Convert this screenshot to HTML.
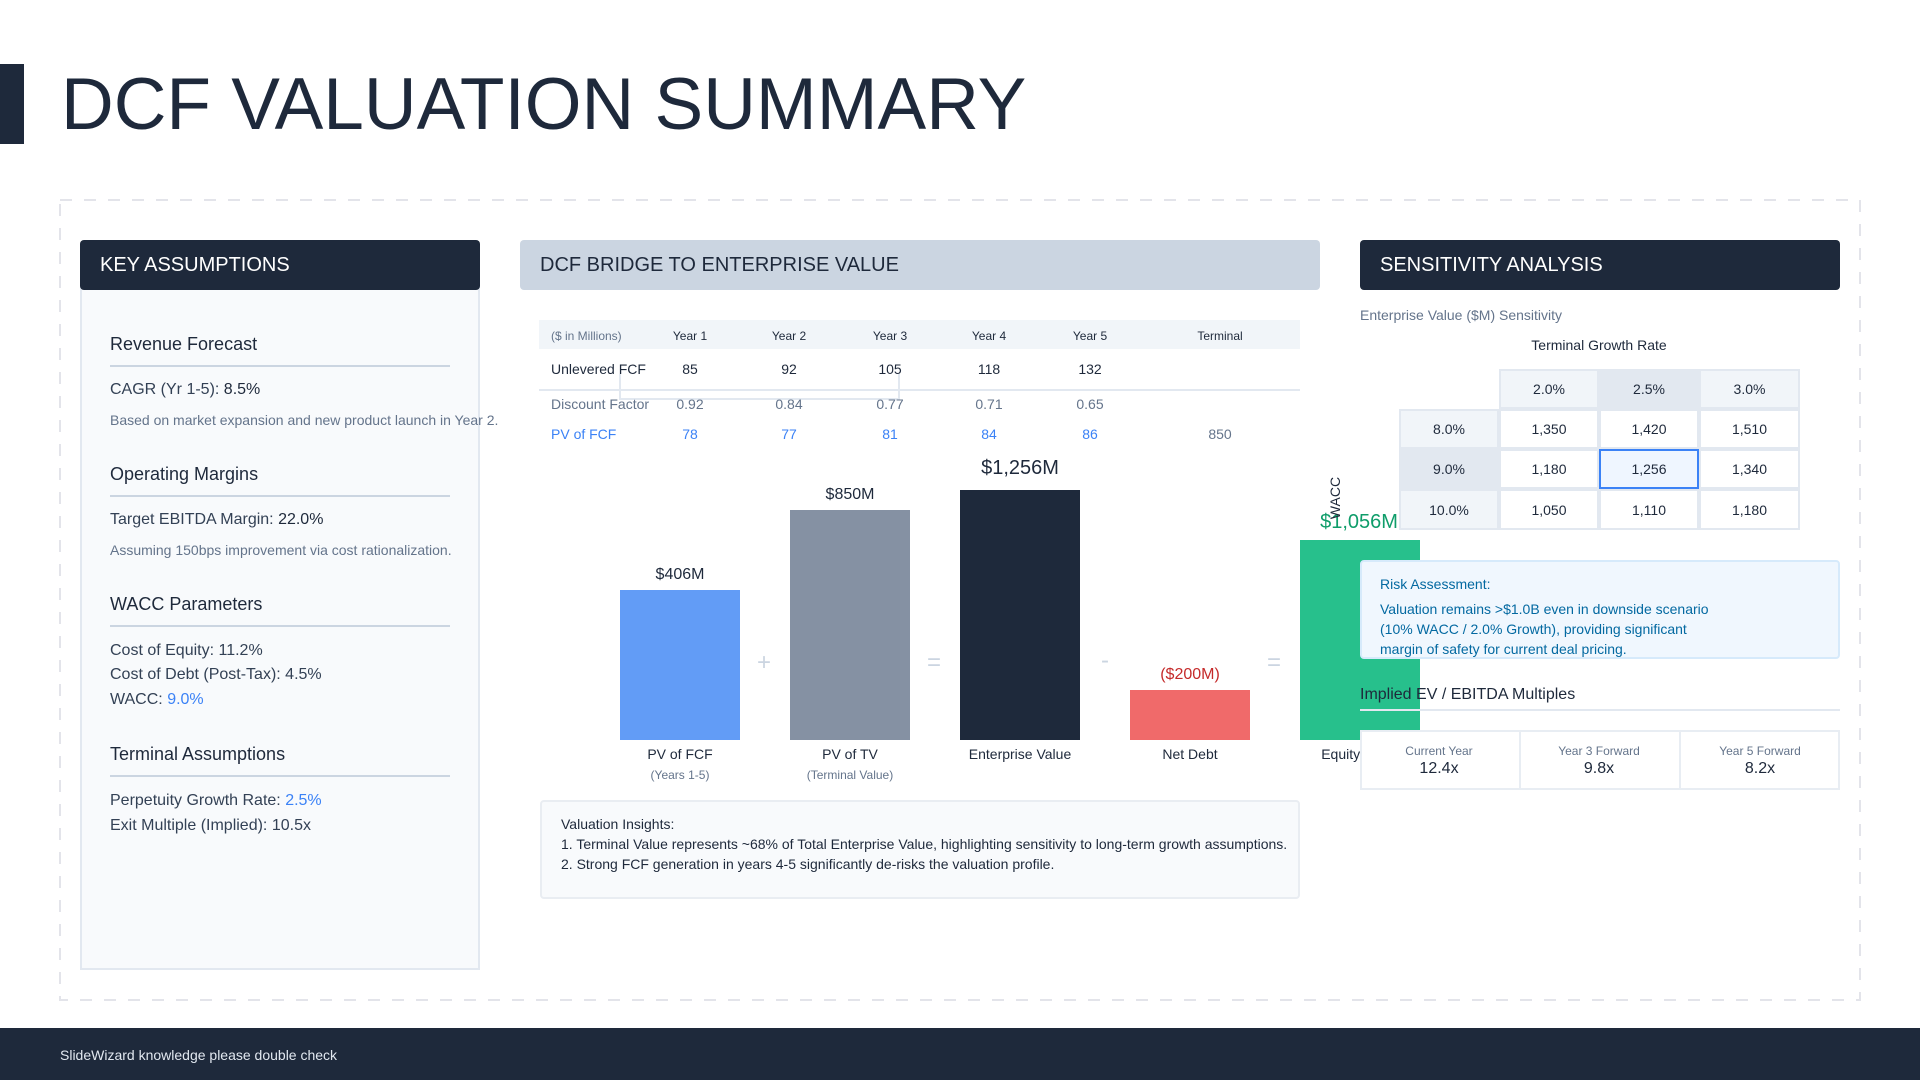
<!DOCTYPE html>
<html><head><meta charset="utf-8">
<style>
*{margin:0;padding:0;box-sizing:border-box}
html,body{width:1920px;height:1080px;overflow:hidden;background:#fff}
body{position:relative;font-family:"Liberation Sans",Arial,Helvetica,sans-serif;color:#1e293b}
.a{position:absolute;white-space:nowrap;line-height:1}
.c{transform:translateX(-50%)}
.hdr{position:absolute;height:50px;border-radius:4px}
.line{position:absolute;height:2px;background:#cbd5e1}
.st{font-size:18px;color:#1e293b}
.it{font-size:16px;color:#334155}
.nt{font-size:14px;color:#64748b}
.th{font-size:12px;color:#1e293b}
.td{font-size:14px}
.cell{position:absolute;width:100px;height:40px;display:flex;align-items:center;justify-content:center;font-size:14px;color:#1e293b;border:2px solid #e2e8f0;background:#fff}
.bar{position:absolute;width:120px}
.op{position:absolute;font-size:24px;color:#cbd5e1;line-height:1;transform:translate(-50%,-50%)}
</style></head><body>

<!-- title -->
<div style="position:absolute;left:0;top:64px;width:24px;height:80px;background:#1e293b"></div>
<div class="a" style="left:61px;top:68.2px;font-size:73px;color:#1e293b">DCF VALUATION SUMMARY</div>

<!-- dashed frame -->
<svg style="position:absolute;left:0;top:0" width="1920" height="1080">
<rect x="60" y="200" width="1800" height="800" fill="none" stroke="#e3e4ea" stroke-width="2" stroke-dasharray="12 12"/>
</svg>

<!-- LEFT PANEL -->
<div style="position:absolute;left:80px;top:280px;width:400px;height:690px;background:#f8fafc;border:2px solid #e2e8f0;border-top:none"></div>
<div class="hdr" style="left:80px;top:240px;width:400px;background:#1e293b"></div>
<div class="a" style="left:100px;top:255px;font-size:20px;color:#fff">KEY ASSUMPTIONS</div>

<div class="a st" style="left:110px;top:335px">Revenue Forecast</div>
<div class="line" style="left:110px;top:365px;width:340px"></div>
<div class="a it" style="left:110px;top:381.5px">CAGR (Yr 1-5): <span style="color:#1e293b">8.5%</span></div>
<div class="a nt" style="left:110px;top:413.2px">Based on market expansion and new product launch in Year 2.</div>

<div class="a st" style="left:110px;top:465px">Operating Margins</div>
<div class="line" style="left:110px;top:495px;width:340px"></div>
<div class="a it" style="left:110px;top:511.5px">Target EBITDA Margin: <span style="color:#1e293b">22.0%</span></div>
<div class="a nt" style="left:110px;top:543.2px">Assuming 150bps improvement via cost rationalization.</div>

<div class="a st" style="left:110px;top:595px">WACC Parameters</div>
<div class="line" style="left:110px;top:625px;width:340px"></div>
<div class="a it" style="left:110px;top:642.5px">Cost of Equity: 11.2%</div>
<div class="a it" style="left:110px;top:666.5px">Cost of Debt (Post-Tax): 4.5%</div>
<div class="a it" style="left:110px;top:691.5px">WACC: <span style="color:#3b82f6">9.0%</span></div>

<div class="a st" style="left:110px;top:745px">Terminal Assumptions</div>
<div class="line" style="left:110px;top:775px;width:340px"></div>
<div class="a it" style="left:110px;top:792.5px">Perpetuity Growth Rate: <span style="color:#3b82f6">2.5%</span></div>
<div class="a it" style="left:110px;top:817.5px">Exit Multiple (Implied): 10.5x</div>

<!-- MIDDLE -->
<div class="hdr" style="left:520px;top:240px;width:800px;background:#cbd5e1"></div>
<div class="a" style="left:540px;top:255px;font-size:20px;color:#1e293b">DCF BRIDGE TO ENTERPRISE VALUE</div>

<div style="position:absolute;left:539px;top:320px;width:761px;height:29px;background:#f1f5f9"></div>
<div class="a" style="left:551px;top:329.8px;font-size:12px;color:#64748b">($ in Millions)</div>
<div class="a th c" style="left:690px;top:330px">Year 1</div>
<div class="a th c" style="left:789px;top:330px">Year 2</div>
<div class="a th c" style="left:890px;top:330px">Year 3</div>
<div class="a th c" style="left:989px;top:330px">Year 4</div>
<div class="a th c" style="left:1090px;top:330px">Year 5</div>
<div class="a th c" style="left:1220px;top:330px">Terminal</div>

<div style="position:absolute;left:619px;top:374px;width:281px;height:26px;border:2px solid #e2e8f0;border-top:none"></div>
<div style="position:absolute;left:539px;top:389px;width:761px;height:2px;background:#e2e8f0"></div>

<div class="a td" style="left:551px;top:362px;color:#1e293b">Unlevered FCF</div>
<div class="a td c" style="left:690px;top:362px">85</div>
<div class="a td c" style="left:789px;top:362px">92</div>
<div class="a td c" style="left:890px;top:362px">105</div>
<div class="a td c" style="left:989px;top:362px">118</div>
<div class="a td c" style="left:1090px;top:362px">132</div>

<div class="a td" style="left:551px;top:397px;color:#64748b">Discount Factor</div>
<div class="a td c" style="left:690px;top:397px;color:#64748b">0.92</div>
<div class="a td c" style="left:789px;top:397px;color:#64748b">0.84</div>
<div class="a td c" style="left:890px;top:397px;color:#64748b">0.77</div>
<div class="a td c" style="left:989px;top:397px;color:#64748b">0.71</div>
<div class="a td c" style="left:1090px;top:397px;color:#64748b">0.65</div>

<div class="a td" style="left:551px;top:427px;color:#3b82f6">PV of FCF</div>
<div class="a td c" style="left:690px;top:427px;color:#3b82f6">78</div>
<div class="a td c" style="left:789px;top:427px;color:#3b82f6">77</div>
<div class="a td c" style="left:890px;top:427px;color:#3b82f6">81</div>
<div class="a td c" style="left:989px;top:427px;color:#3b82f6">84</div>
<div class="a td c" style="left:1090px;top:427px;color:#3b82f6">86</div>
<div class="a td c" style="left:1220px;top:427px;color:#64748b">850</div>

<!-- bars -->
<div class="bar" style="left:620px;top:590px;height:150px;background:#629cf6"></div>
<div class="bar" style="left:790px;top:510px;height:230px;background:#8591a3"></div>
<div class="bar" style="left:960px;top:490px;height:250px;background:#1e293b"></div>
<div class="bar" style="left:1130px;top:690px;height:50px;background:#f06a6a"></div>
<div class="bar" style="left:1300px;top:540px;height:200px;background:#27c08c"></div>

<div class="a c" style="left:680px;top:566.5px;font-size:16px;color:#1e293b">$406M</div>
<div class="a c" style="left:850px;top:486.5px;font-size:16px;color:#1e293b">$850M</div>
<div class="a c" style="left:1020px;top:458px;font-size:20px;color:#1e293b">$1,256M</div>
<div class="a c" style="left:1190px;top:666.5px;font-size:16px;color:#c52a2a">($200M)</div>
<div class="a c" style="left:1359px;top:512px;font-size:20px;color:#0f9d6a">$1,056M</div>

<div class="op" style="left:764px;top:663px">+</div>
<div class="op" style="left:934px;top:663px">=</div>
<div class="op" style="left:1105px;top:661px">-</div>
<div class="op" style="left:1274px;top:663px">=</div>

<div class="a c" style="left:680px;top:747px;font-size:14px;color:#1e293b">PV of FCF</div>
<div class="a c" style="left:680px;top:769px;font-size:12px;color:#64748b">(Years 1-5)</div>
<div class="a c" style="left:850px;top:747px;font-size:14px;color:#1e293b">PV of TV</div>
<div class="a c" style="left:850px;top:769px;font-size:12px;color:#64748b">(Terminal Value)</div>
<div class="a c" style="left:1020px;top:747px;font-size:14px;color:#1e293b">Enterprise Value</div>
<div class="a c" style="left:1190px;top:747px;font-size:14px;color:#1e293b">Net Debt</div>
<div class="a c" style="left:1360px;top:747px;font-size:14px;color:#1e293b">Equity Value</div>

<div class="a" style="left:1335px;top:498px;font-size:14px;color:#1e293b;transform:translate(-50%,-50%) rotate(-90deg)">WACC</div>

<!-- insights -->
<div style="position:absolute;left:540px;top:800px;width:760px;height:99px;background:#f8fafc;border:2px solid #e9edf2;border-radius:4px"></div>
<div class="a" style="left:561px;top:817.2px;font-size:14px;color:#1e293b">Valuation Insights:</div>
<div class="a" style="left:561px;top:837.2px;font-size:14px;color:#1e293b">1. Terminal Value represents ~68% of Total Enterprise Value, highlighting sensitivity to long-term growth assumptions.</div>
<div class="a" style="left:561px;top:857.2px;font-size:14px;color:#1e293b">2. Strong FCF generation in years 4-5 significantly de-risks the valuation profile.</div>

<!-- RIGHT -->
<div class="hdr" style="left:1360px;top:240px;width:480px;background:#1e293b"></div>
<div class="a" style="left:1380px;top:255px;font-size:20px;color:#fff">SENSITIVITY ANALYSIS</div>
<div class="a" style="left:1360px;top:308.2px;font-size:14px;color:#64748b">Enterprise Value ($M) Sensitivity</div>
<div class="a c" style="left:1599px;top:338px;font-size:14px;color:#1e293b">Terminal Growth Rate</div>

<div class="cell" style="left:1499px;top:369px;background:#f1f5f9">2.0%</div>
<div class="cell" style="left:1599px;top:369px;background:#e2e8f0">2.5%</div>
<div class="cell" style="left:1699px;top:369px;background:#f1f5f9;width:101px">3.0%</div>

<div class="cell" style="left:1399px;top:409px;background:#f1f5f9">8.0%</div>
<div class="cell" style="left:1499px;top:409px">1,350</div>
<div class="cell" style="left:1599px;top:409px">1,420</div>
<div class="cell" style="left:1699px;top:409px;width:101px">1,510</div>

<div class="cell" style="left:1399px;top:449px;background:#e2e8f0">9.0%</div>
<div class="cell" style="left:1499px;top:449px">1,180</div>
<div class="cell" style="left:1699px;top:449px;width:101px">1,340</div>
<div class="cell" style="left:1599px;top:449px;background:#eff6ff;border-color:#3b82f6">1,256</div>

<div class="cell" style="left:1399px;top:489px;background:#f1f5f9;height:41px">10.0%</div>
<div class="cell" style="left:1499px;top:489px;height:41px">1,050</div>
<div class="cell" style="left:1599px;top:489px;height:41px">1,110</div>
<div class="cell" style="left:1699px;top:489px;width:101px;height:41px">1,180</div>

<div style="position:absolute;left:1360px;top:560px;width:480px;height:99px;background:#f0f7fe;border:2px solid #d6eafb;border-radius:4px"></div>
<div class="a" style="left:1380px;top:577.2px;font-size:14px;color:#0369a1">Risk Assessment:</div>
<div class="a" style="left:1380px;top:602.2px;font-size:14px;color:#0369a1">Valuation remains &gt;$1.0B even in downside scenario</div>
<div class="a" style="left:1380px;top:622.2px;font-size:14px;color:#0369a1">(10% WACC / 2.0% Growth), providing significant</div>
<div class="a" style="left:1380px;top:642.2px;font-size:14px;color:#0369a1">margin of safety for current deal pricing.</div>

<div class="a" style="left:1360px;top:686.5px;font-size:16px;color:#1e293b">Implied EV / EBITDA Multiples</div>
<div style="position:absolute;left:1360px;top:709px;width:480px;height:2px;background:#e2e8f0"></div>

<div style="position:absolute;left:1360px;top:730px;width:480px;height:60px;background:#fff;border:2px solid #e8edf3"></div>
<div style="position:absolute;left:1519px;top:730px;width:2px;height:60px;background:#e8edf3"></div>
<div style="position:absolute;left:1679px;top:730px;width:2px;height:60px;background:#e8edf3"></div>
<div class="a c" style="left:1439px;top:745px;font-size:12px;color:#64748b">Current Year</div>
<div class="a c" style="left:1439px;top:760.5px;font-size:16px;color:#1e293b">12.4x</div>
<div class="a c" style="left:1599px;top:745px;font-size:12px;color:#64748b">Year 3 Forward</div>
<div class="a c" style="left:1599px;top:760.5px;font-size:16px;color:#1e293b">9.8x</div>
<div class="a c" style="left:1760px;top:745px;font-size:12px;color:#64748b">Year 5 Forward</div>
<div class="a c" style="left:1760px;top:760.5px;font-size:16px;color:#1e293b">8.2x</div>

<!-- footer -->
<div style="position:absolute;left:0;top:1028px;width:1920px;height:52px;background:#1e293b"></div>
<div class="a" style="left:60px;top:1048px;font-size:14px;color:#e2e8f0">SlideWizard knowledge please double check</div>

</body></html>
